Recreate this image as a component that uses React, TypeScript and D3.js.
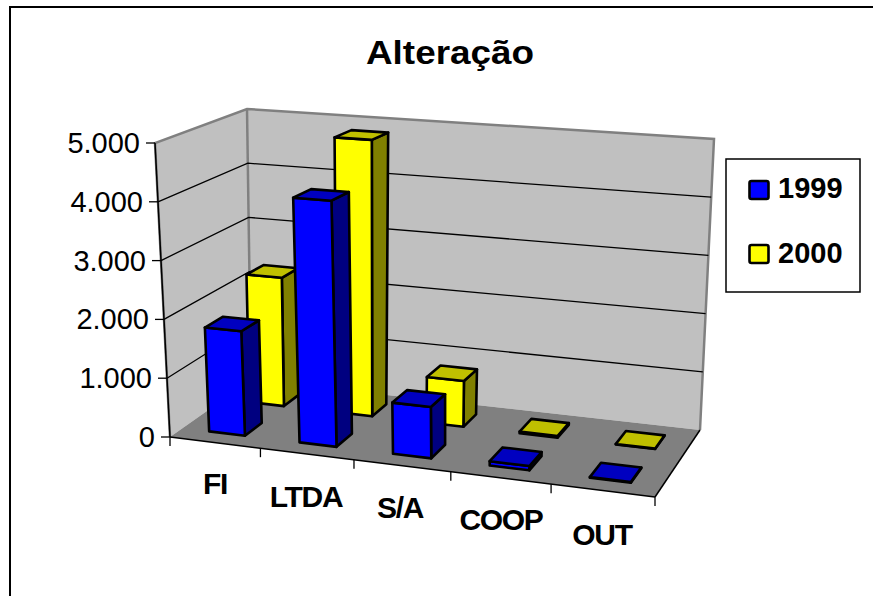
import * as React from 'react';
import * as d3 from 'd3';

const categories = ['FI', 'LTDA', 'S/A', 'COOP', 'OUT'];
const seriesNames = ['1999', '2000'];
const values1999 = [1780, 4130, 850, 70, 10];
const values2000 = [2280, 4840, 790, 30, 5];
const valueTicks = [0, 1000, 2000, 3000, 4000, 5000];
const labelX = [215, 306, 400, 501, 602];
const labelY = [494, 507, 518, 530, 545];

const BLUE = { front: '#0000ff', side: '#000080', top: '#0000c0' };
const YELLOW = { front: '#ffff00', side: '#808000', top: '#c0c000' };

type Pt = [number, number];

// unit square -> quad (front-left, front-right, back-right, back-left)
function homography(q: Pt[]) {
  const [[x0, y0], [x1, y1], [x2, y2], [x3, y3]] = q;
  const dx1 = x1 - x2, dx2 = x3 - x2, sx = x0 - x1 + x2 - x3;
  const dy1 = y1 - y2, dy2 = y3 - y2, sy = y0 - y1 + y2 - y3;
  const det = dx1 * dy2 - dx2 * dy1;
  const g = (sx * dy2 - dx2 * sy) / det;
  const h = (dx1 * sy - sx * dy1) / det;
  const a = x1 - x0 + g * x1, b = x3 - x0 + h * x3;
  const d = y1 - y0 + g * y1, e = y3 - y0 + h * y3;
  return (u: number, v: number): Pt => {
    const w = g * u + h * v + 1;
    return [(a * u + b * v + x0) / w, (d * u + e * v + y0) / w];
  };
}

const floor = homography([[170, 437], [655, 497], [700, 430], [251, 380]]);
const ceil = homography([[155, 143], [656, 178], [714, 139], [247, 109]]);

const uScale = d3.scaleBand<string>().domain(categories).range([0, 1]);
const vScale = d3.scaleBand<string>().domain(seriesNames).range([0, 1]);
const hScale = d3.scaleLinear().domain([0, 5000]).range([0, 1]);

const project = (u: number, v: number, value: number): Pt => {
  const a = floor(u, v);
  const b = ceil(u, v);
  const t = hScale(value);
  return [a[0] + (b[0] - a[0]) * t, a[1] + (b[1] - a[1]) * t];
};

const poly = (pts: Pt[]) => d3.line()(pts)! + 'Z';

function Bar({ cat, series, value, colors }: { cat: string; series: string; value: number; colors: typeof BLUE }) {
  const bw = uScale.bandwidth();
  const bd = vScale.bandwidth();
  const u0 = uScale(cat)! + bw * 0.3;
  const u1 = uScale(cat)! + bw * 0.7;
  const v0 = vScale(series)! + bd * 0.29;
  const v1 = vScale(series)! + bd * 0.71;
  const f0 = project(u0, v0, 0), f1 = project(u1, v0, 0), b1 = project(u1, v1, 0);
  const ft0 = project(u0, v0, value), ft1 = project(u1, v0, value);
  const bt1 = project(u1, v1, value), bt0 = project(u0, v1, value);
  const common = { stroke: '#000', strokeWidth: 2.6, strokeLinejoin: 'round' as const };
  return (
    <g>
      <path d={poly([f1, b1, bt1, ft1])} fill={colors.side} {...common} />
      <path d={poly([f0, f1, ft1, ft0])} fill={colors.front} {...common} />
      <path d={poly([ft0, ft1, bt1, bt0])} fill={colors.top} {...common} />
    </g>
  );
}

export default function App() {
  const font = '"Liberation Sans", Arial, sans-serif';
  const f00 = project(0, 0, 0), f10 = project(1, 0, 0), b10 = project(1, 1, 0), b00 = project(0, 1, 0);
  const t00 = project(0, 0, 5000), t01 = project(0, 1, 5000), t11 = project(1, 1, 5000);
  return (
    <svg width={873} height={596} style={{ position: 'absolute', left: 0, top: 0, background: '#fff' }} fontFamily={font}>
      <path d="M10,598V7H873" fill="none" stroke="#000" strokeWidth={2} />
      <text x={450} y={64} textAnchor="middle" fontSize={33} fontWeight="bold" textLength={168} lengthAdjust="spacingAndGlyphs">Alteração</text>

      {/* walls */}
      <path d={poly([f00, b00, t01, t00])} fill="#c0c0c0" />
      <path d={poly([b00, b10, t11, t01])} fill="#c0c0c0" />
      <path d={poly([f00, f10, b10, b00])} fill="#808080" />
      <path d={d3.line()([f00, t00, t01, t11, b10])!} fill="none" stroke="#808080" strokeWidth={2.5} />
      <path d={d3.line()([t01, b00])!} fill="none" stroke="#808080" strokeWidth={2.5} />

      {/* gridlines */}
      {valueTicks.slice(1, -1).map((t) => (
        <path key={t} d={d3.line()([project(0, 0, t), project(0, 1, t), project(1, 1, t)])!} fill="none" stroke="#000" strokeWidth={1.3} />
      ))}

      {/* axes */}
      <path d={d3.line()([t00, f00])!} stroke="#000" strokeWidth={1.5} fill="none" />
      <path d={d3.line()([f00, f10])!} stroke="#000" strokeWidth={1.5} fill="none" />
      <path d={d3.line()([f10, b10])!} stroke="#000" strokeWidth={1.5} fill="none" />
      {valueTicks.map((t) => {
        const [x, y] = project(0, 0, t);
        return (
          <g key={t}>
            <line x1={x - 9} x2={x} y1={y} y2={y} stroke="#000" strokeWidth={1.3} />
            <text x={x - 15} y={y + 10} textAnchor="end" fontSize={29}>{d3.format(',')(t).replace(',', '.')}</text>
          </g>
        );
      })}
      {d3.range(categories.length + 1).map((i) => {
        const [x, y] = project(i / categories.length, 0, 0);
        return <line key={i} x1={x} x2={x} y1={y} y2={y + 9} stroke="#000" strokeWidth={1.3} />;
      })}

      {/* bars, back series first */}
      {categories.map((c, i) => <Bar key={c} cat={c} series="2000" value={values2000[i]} colors={YELLOW} />)}
      {categories.map((c, i) => <Bar key={c} cat={c} series="1999" value={values1999[i]} colors={BLUE} />)}

      {categories.map((c, i) => (
        <text key={c} x={labelX[i]} y={labelY[i]} textAnchor="middle" fontSize={30} fontWeight="bold" letterSpacing={-1.3}>{c}</text>
      ))}

      {/* legend */}
      <rect x={726} y={159} width={134} height={133} fill="#fff" stroke="#000" strokeWidth={1.5} />
      {seriesNames.map((s, i) => (
        <g key={s}>
          <rect x={749.5} y={181 + i * 64} width={19} height={18} rx={2} fill={i ? YELLOW.front : BLUE.front} stroke="#000" strokeWidth={2.6} />
          <text x={778} y={198 + i * 65} fontSize={29} fontWeight="bold">{s}</text>
        </g>
      ))}
    </svg>
  );
}
